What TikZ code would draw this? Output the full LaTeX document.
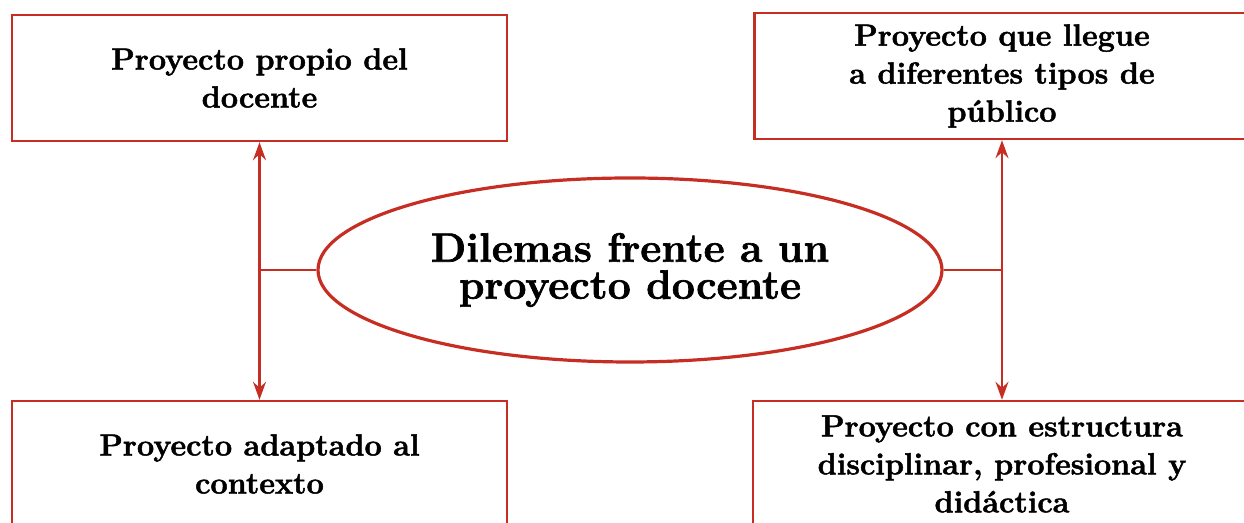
\documentclass[tikz,border=0pt]{standalone}
\usepackage{fontspec}
\setmainfont{Latin Modern Roman}[BoldFeatures={FakeBold=1.6}]
\usetikzlibrary{arrows.meta,shapes.geometric}
\definecolor{rojo}{RGB}{198,46,36}
\begin{document}
\begin{tikzpicture}[x=0.5pt,y=0.5pt,
	caja/.style={draw=rojo,line width=1.2pt,minimum width=247.5pt,minimum height=63pt,inner sep=0pt,
		align=center,font=\fontsize{15.3}{19}\selectfont\bfseries},
	flecha/.style={draw=rojo,line width=1.1pt,-{Stealth[length=9pt,width=6.5pt,inset=3pt]}}]
	\useasboundingbox (0,0) rectangle (1244,523);
	\node[caja] (propio) at (259.5,445) {Proyecto propio del\\docente};
	\node[caja] (publico) at (1002,447) {Proyecto que llegue\\a diferentes tipos de\\p\'ublico};
	\node[caja] (contexto) at (259.5,59) {Proyecto adaptado al\\contexto};
	\node[caja,minimum width=249pt] (estructura) at (1002,59) {Proyecto con estructura\\disciplinar, profesional y\\did\'actica};
	\node[ellipse,draw=rojo,line width=1.6pt,minimum width=312pt,minimum height=92pt,inner sep=0pt,
		align=center,font=\fontsize{20.5}{18.5}\selectfont\bfseries] (dilemas) at (630,253) {Dilemas frente a un\\proyecto docente};
	
	\coordinate (izq) at (propio.south |- dilemas.west);
	\coordinate (der) at (publico.south |- dilemas.east);
	\draw[rojo,line width=1.1pt] (dilemas.west) -- (izq);
	\draw[rojo,line width=1.1pt] (dilemas.east) -- (der);
	\foreach \a/\b in {izq/propio.south,izq/contexto.north,der/publico.south,der/estructura.north}{
		\draw[flecha] (\a) -- (\b);
	}
\end{tikzpicture}
\end{document}
